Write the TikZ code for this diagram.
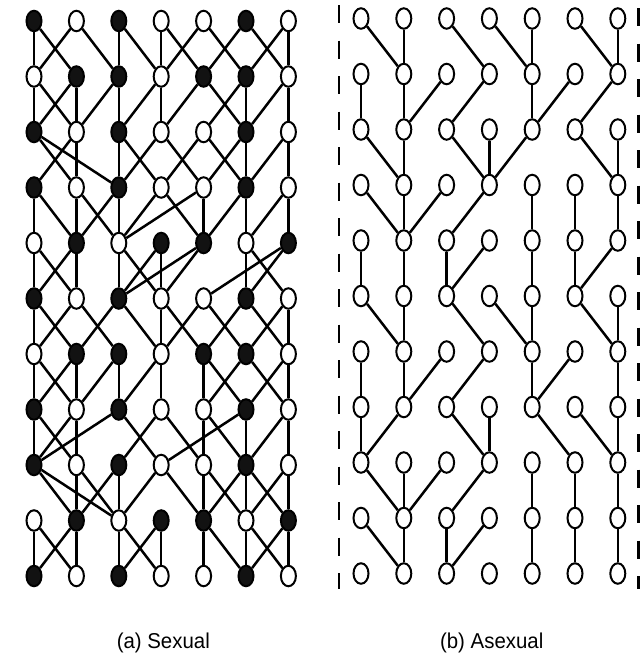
\documentclass[tikz,border=0pt]{standalone}
\usepackage{fontspec}
\setmainfont{Liberation Sans}
\usetikzlibrary{shapes.geometric}
\colorlet{B}{black!93}
\colorlet{W}{white}
\begin{document}
\begin{tikzpicture}[x=1pt,y=-1pt,
  nd/.style={ellipse,draw=black,line width=2pt,inner sep=0pt,minimum width=15pt,minimum height=20.5pt},
  ln/.style={line width=2.5pt,black},
  sep/.style={line width=2.2pt,black,dash pattern=on 18pt off 17.5pt},
  lbl/.style={font=\fontsize{21.5}{24}\selectfont,anchor=base}]
\useasboundingbox (0,0) rectangle (642,656);
% ---------- left panel: sexual ----------
\foreach \row [count=\j from 0] in {
  {B,W,B,W,W,B,W},{W,B,B,W,B,B,W},{B,W,B,W,W,B,W},{B,W,B,W,W,B,W},
  {W,B,W,B,B,W,B},{B,W,B,W,W,B,W},{W,B,B,W,B,B,W},{B,W,B,W,W,B,W},
  {B,W,B,W,W,B,W},{W,B,W,B,B,W,B},{B,W,B,W,W,B,W}}{
  \foreach \c [count=\i from 0] in \row {
    \node[nd,fill=\c] (L\j-\i) at ({34+42.4*\i},{21+55.5*\j}) {};
  }
}
\foreach \j/\i/\p in {
 0/0/0,0/0/1,0/1/0,0/1/2,0/2/2,0/2/3,0/3/3,0/3/4,0/4/3,0/4/5,0/5/4,0/5/6,0/6/5,0/6/6,
 1/0/0,1/0/1,1/1/0,1/1/1,1/2/1,1/2/2,1/3/2,1/3/3,1/4/3,1/4/5,1/5/4,1/5/5,1/6/5,1/6/6,
 2/0/1,2/0/2,2/1/0,2/1/1,2/2/2,2/2/3,2/3/2,2/3/4,2/4/3,2/4/5,2/5/4,2/5/5,2/6/5,2/6/6,
 3/0/0,3/0/1,3/1/1,3/1/2,3/2/1,3/2/2,3/3/2,3/3/4,3/4/2,3/4/4,3/5/4,3/5/5,3/6/5,3/6/6,
 4/0/0,4/0/1,4/1/0,4/1/1,4/2/2,4/2/3,4/3/2,4/3/3,4/4/2,4/4/3,4/5/5,4/5/6,4/6/4,4/6/5,
 5/0/0,5/0/1,5/1/0,5/1/2,5/2/1,5/2/3,5/3/3,5/3/4,5/4/3,5/4/5,5/5/4,5/5/6,5/6/5,5/6/6,
 6/0/0,6/0/1,6/1/0,6/1/1,6/2/1,6/2/2,6/3/2,6/3/3,6/4/4,6/4/5,6/5/4,6/5/6,6/6/5,6/6/6,
 7/0/0,7/0/1,7/1/0,7/1/1,7/2/0,7/2/3,7/3/2,7/3/4,7/4/4,7/4/5,7/5/3,7/5/5,7/6/5,7/6/6,
 8/0/1,8/0/2,8/1/1,8/1/2,8/2/1,8/2/2,8/3/2,8/3/4,8/4/4,8/4/5,8/5/4,8/5/5,8/5/6,8/6/5,8/6/6,
 9/0/0,9/0/1,9/1/0,9/1/1,9/2/2,9/2/3,9/3/2,9/3/3,9/4/4,9/4/5,9/5/5,9/5/6,9/6/5,9/6/6}{
  \pgfmathtruncatemacro\jn{\j+1}
  \draw[ln] (L\j-\i) -- (L\jn-\p);
}
% ---------- right panel: asexual ----------
\foreach \j in {0,...,10}{
  \foreach \i in {0,...,6}{
    \node[nd,fill=white] (R\j-\i) at ({361+42.8*\i},{18.5+55.5*\j}) {};
  }
}
\foreach \row [count=\j from 0] in {
  {1,1,3,4,4,6,6},{0,1,1,2,4,4,5},{1,1,3,3,3,6,6},{1,1,1,2,4,5,6},
  {0,1,2,2,4,5,5},{1,1,3,4,4,6,6},{0,1,1,2,4,4,6},{0,0,3,3,5,6,6},
  {1,1,1,2,4,5,6},{1,1,2,2,4,5,6}}{
  \pgfmathtruncatemacro\jn{\j+1}
  \foreach \p [count=\i from 0] in \row {
    \draw[ln] (R\j-\i) -- (R\jn-\p);
  }
}
% ---------- dashed borders ----------
\draw[sep] (339,5) -- (339,589);
\draw[sep] (638.5,8) -- (638.5,589);
% ---------- captions ----------
\node[lbl] (la) at (163.3,648) {\scalebox{0.95}[1]{(a) Sexual}};
\node[lbl] (lb) at (491.7,648) {\scalebox{0.95}[1]{(b) Asexual}};
\end{tikzpicture}
\end{document}
